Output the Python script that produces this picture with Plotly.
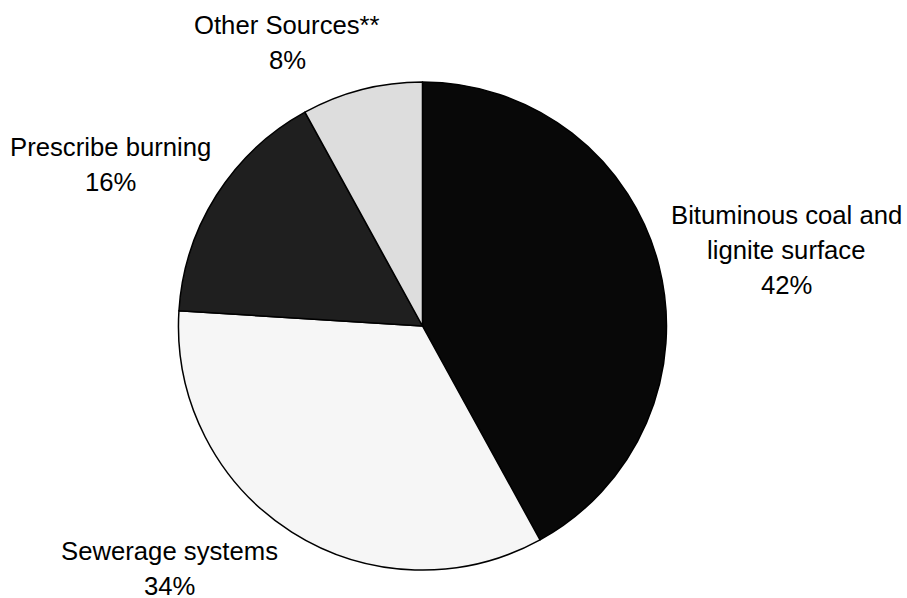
import plotly.graph_objects as go

# ---- data ----
categories = ["Bituminous coal and<br>lignite surface", "Sewerage systems",
              "Prescribe burning", "Other Sources**"]
values = [42, 34, 16, 8]
colors = ["#080808", "#f6f6f6", "#1f1f1f", "#dddddd"]

# label anchor (center x px, cap-mid y px of first line) - layout only
label_pos = [(786.5, 213.5), (169, 550), (110, 146), (287, 24)]

W, H = 907, 598
FONT = dict(family="Liberation Sans, Arial, sans-serif", size=25.7, color="#000000")
PITCH = 35.3

fig = go.Figure(go.Pie(
    labels=categories,
    values=values,
    sort=False,
    direction="clockwise",
    rotation=0,
    marker=dict(colors=colors, line=dict(color="#000000", width=1.5)),
    textinfo="none",
    hoverinfo="label+percent",
    showlegend=False,
    domain=dict(x=[0.1962, 0.7354], y=[0.0468, 0.8629]),
))

total = sum(values)
annotations = []
for cat, v, (px, py) in zip(categories, values, label_pos):
    lines = cat.split("<br>") + [f"{v / total * 100:.0f}%"]
    for i, line in enumerate(lines):
        y_px = py + i * PITCH + 1
        annotations.append(dict(
            text=line, xref="paper", yref="paper",
            x=px / W, y=1 - y_px / H,
            xanchor="center", yanchor="middle",
            showarrow=False, font=FONT,
        ))

fig.update_layout(
    width=W, height=H,
    margin=dict(l=0, r=0, t=0, b=0),
    paper_bgcolor="#ffffff",
    plot_bgcolor="#ffffff",
    annotations=annotations,
)

fig.write_html(
    "out.html",
    config={"displayModeBar": False},
    post_script="document.body.style.margin='0px';document.body.style.overflow='hidden';",
)
